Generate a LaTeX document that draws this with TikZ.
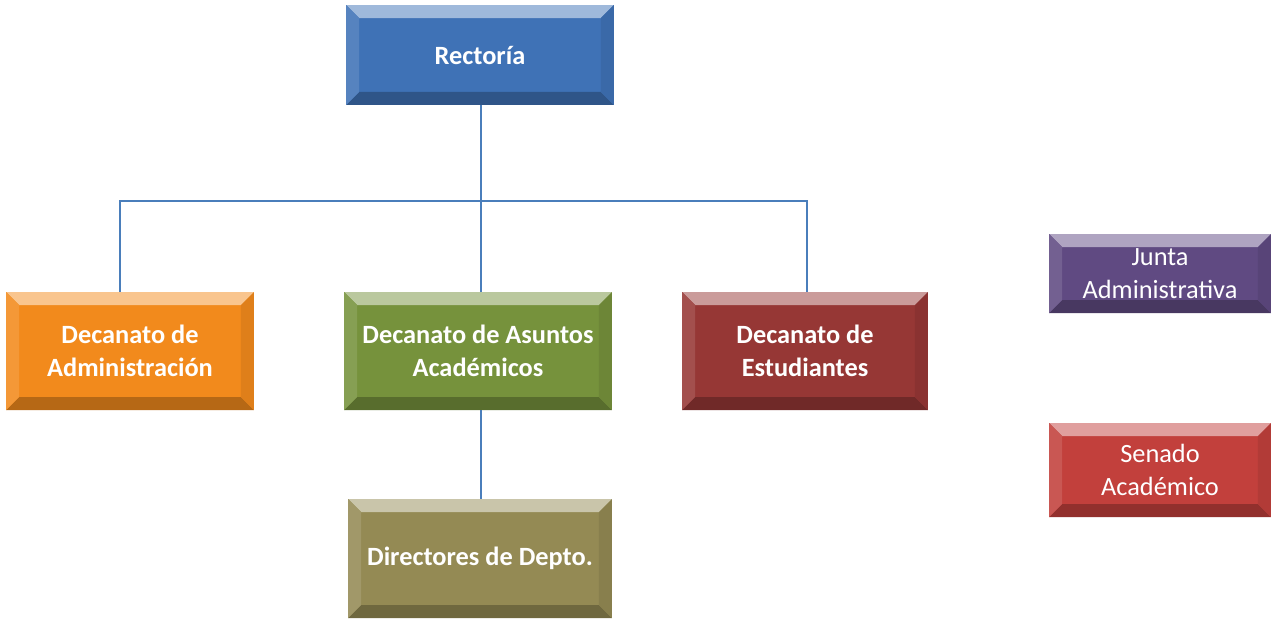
\documentclass[tikz,border=0pt]{standalone}
\usepackage{fontspec}
\setmainfont{Carlito}
\definecolor{cblue}{HTML}{3F72B6}
\definecolor{corange}{HTML}{F28A1C}
\definecolor{cgreen}{HTML}{76923C}
\definecolor{cdred}{HTML}{963735}
\definecolor{colive}{HTML}{948A54}
\definecolor{cpurple}{HTML}{604A82}
\definecolor{cred}{HTML}{C2403C}
\definecolor{cline}{HTML}{4A7EBB}
\tikzset{
  bv/.style={fill=#1, draw=none, text=white, align=center, inner sep=0pt,
    font=\fontsize{15}{18.7}\selectfont,
    path picture={
      \fill[#1!50!white] (path picture bounding box.north west) -- (path picture bounding box.north east)
        -- ([shift={(-13,13)}]path picture bounding box.north east) -- ([shift={(13,13)}]path picture bounding box.north west) -- cycle;
      \fill[#1!75!black] (path picture bounding box.south west) -- (path picture bounding box.south east)
        -- ([shift={(-13,-13)}]path picture bounding box.south east) -- ([shift={(13,-13)}]path picture bounding box.south west) -- cycle;
      \fill[#1!88!white] (path picture bounding box.north west) -- ([shift={(13,13)}]path picture bounding box.north west)
        -- ([shift={(13,-13)}]path picture bounding box.south west) -- (path picture bounding box.south west) -- cycle;
      \fill[#1!92!black] (path picture bounding box.north east) -- ([shift={(-13,13)}]path picture bounding box.north east)
        -- ([shift={(-13,-13)}]path picture bounding box.south east) -- (path picture bounding box.south east) -- cycle;
    }},
  bold/.style={font=\fontsize{15}{18.7}\selectfont\bfseries},
  conn/.style={draw=cline, line width=0.6pt}
}
\begin{document}
\begin{tikzpicture}[x=0.02cm, y=-0.02cm]
\useasboundingbox (0,0) rectangle (1271,620);
\node[bv=cblue, bold, minimum width=5.36cm, minimum height=2cm] (rect) at (480,55) {Rector\'ia};
\node[bv=corange, bold, minimum width=4.96cm, minimum height=2.36cm] (adm) at (130,351) {Decanato de\\Administraci\'on};
\node[bv=cgreen, bold, minimum width=5.36cm, minimum height=2.36cm] (aca) at (478,351) {Decanato de Asuntos\\Acad\'emicos};
\node[bv=cdred, bold, minimum width=4.92cm, minimum height=2.36cm] (est) at (805,351) {Decanato de\\Estudiantes};
\node[bv=colive, bold, minimum width=5.28cm, minimum height=2.38cm] (dir) at (480,558.5) {Directores de Depto.};
\node[bv=cpurple, minimum width=4.44cm, minimum height=1.58cm] (junta) at (1160,273.5) {Junta\\Administrativa};
\node[bv=cred, minimum width=4.44cm, minimum height=1.88cm] (senado) at (1160,470) {Senado\\Acad\'emico};
\coordinate (bus) at (481,201);
\draw[conn] (rect.south -| bus) -- (aca.north -| bus);
\draw[conn] ([xshift=-0.2cm]adm.north) |- (bus) -| ([xshift=0.04cm]est.north);
\draw[conn] (aca.south -| bus) -- (dir.north -| bus);
\end{tikzpicture}
\end{document}
